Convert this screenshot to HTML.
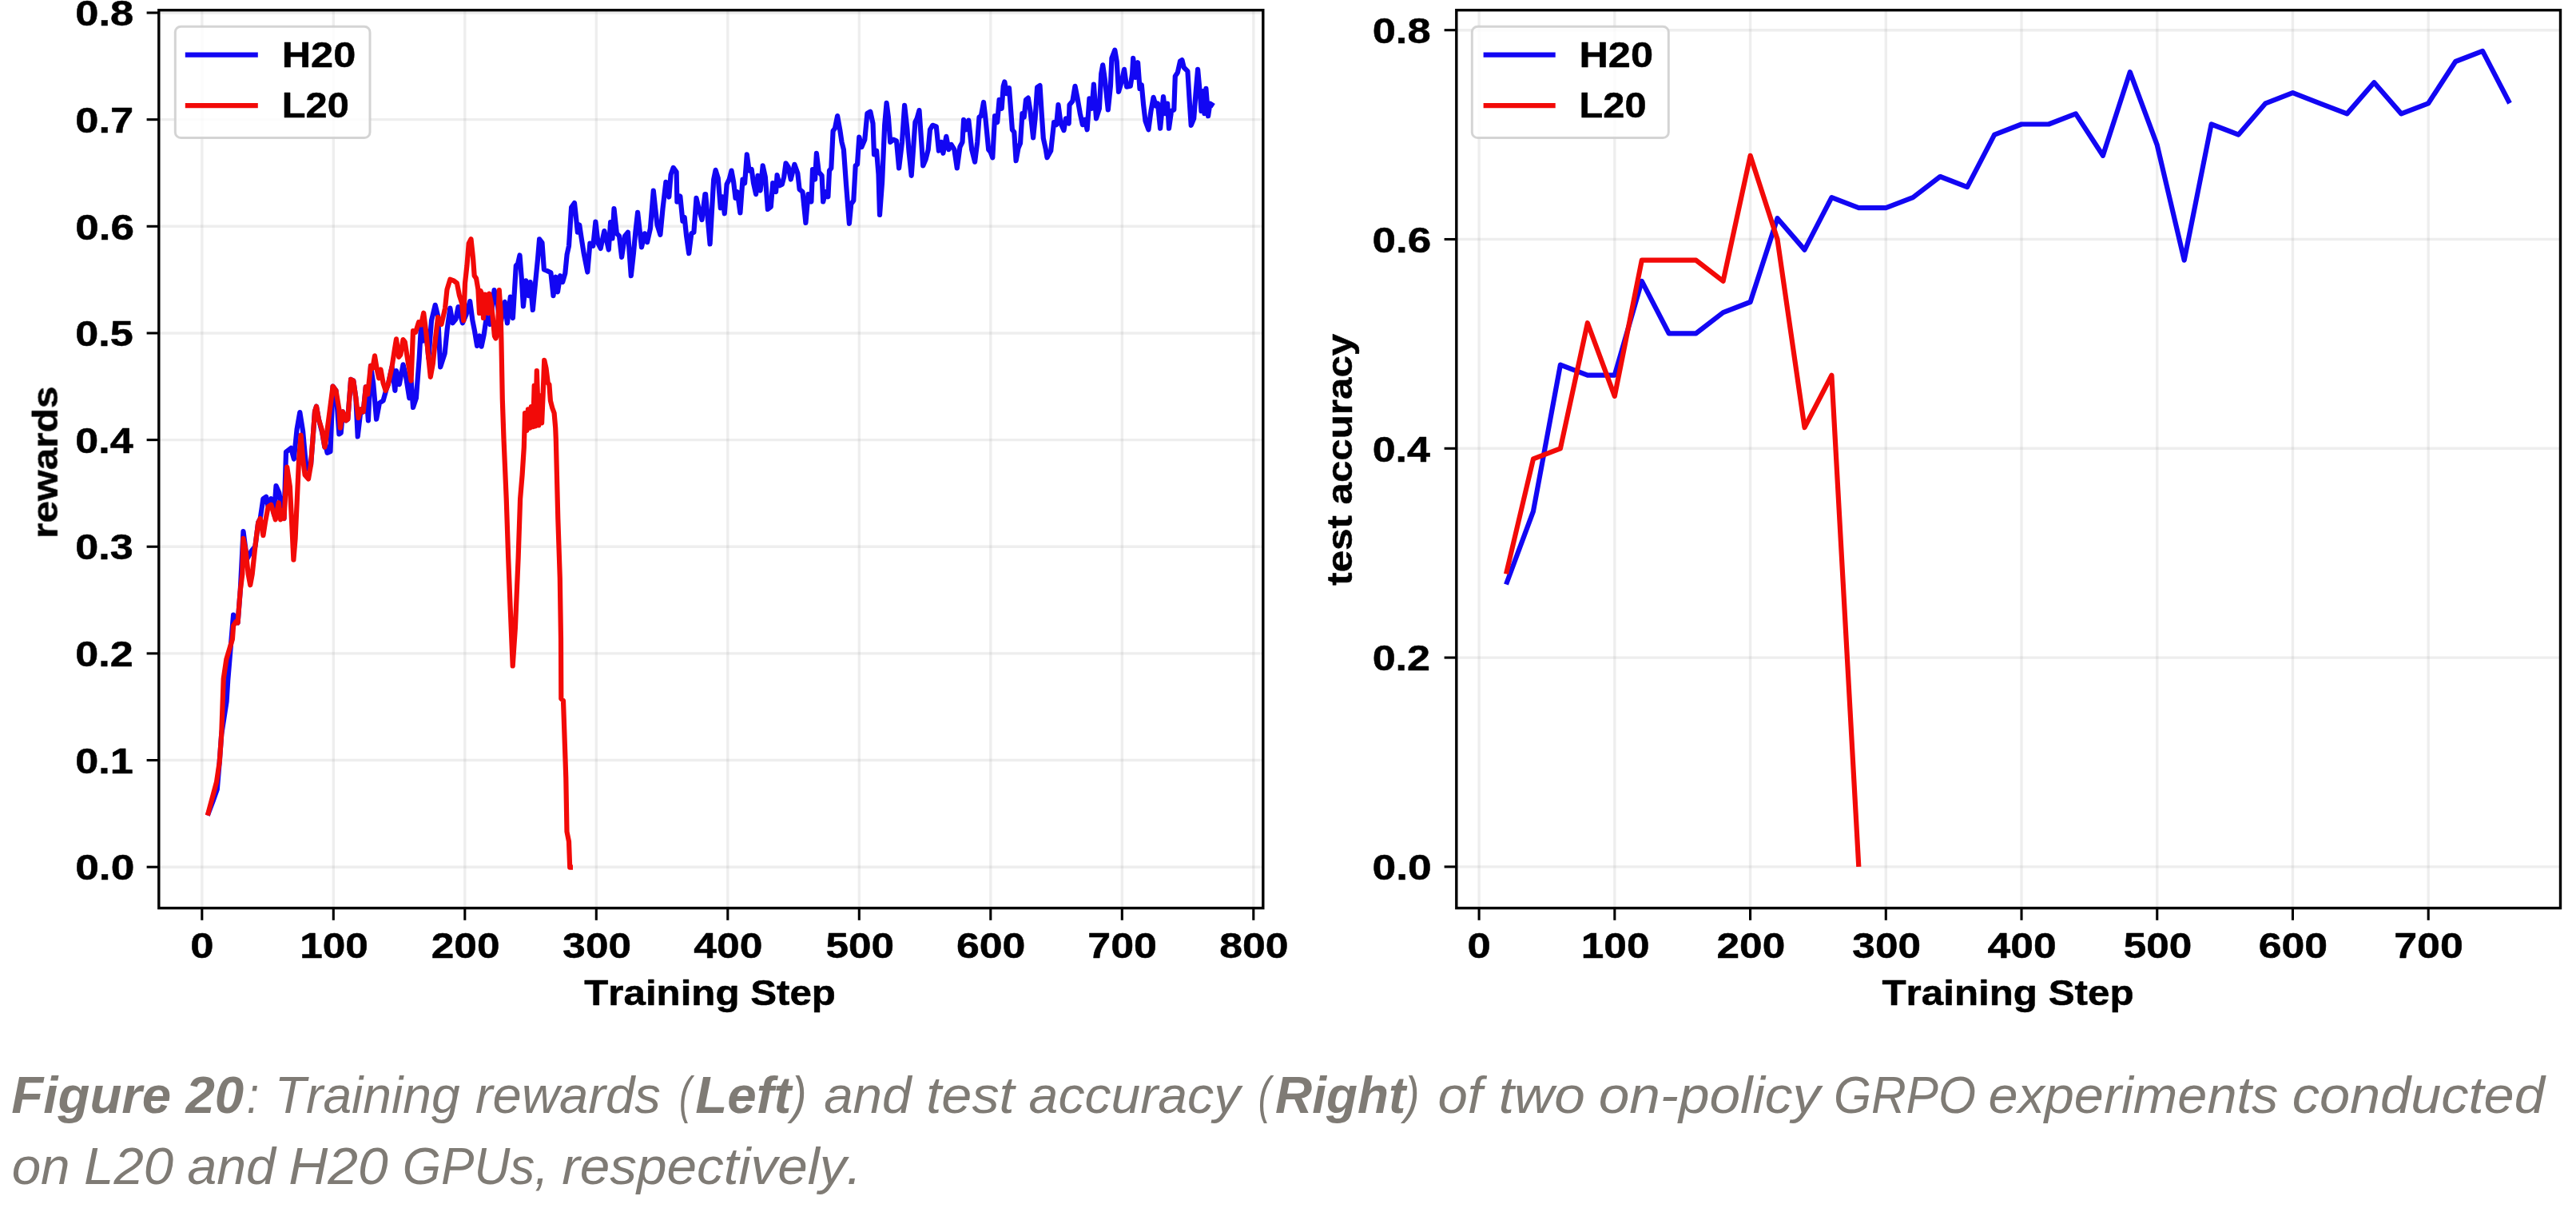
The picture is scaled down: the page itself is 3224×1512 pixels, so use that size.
<!DOCTYPE html>
<html lang="en">
<head>
<meta charset="utf-8">
<title>Figure 20</title>
<style>
html,body{margin:0;padding:0;background:#fff;}
body{width:3224px;height:1512px;overflow:hidden;font-family:"Liberation Sans",sans-serif;}
svg{display:block;}
</style>
</head>
<body>
<svg width="3224" height="1512" viewBox="0 0 3224 1512">
<rect width="3224" height="1512" fill="#fff"/>
<g>
<clipPath id="c1"><rect x="198.8" y="12.7" width="1382.0" height="1123.8999999999999"/></clipPath>
<g stroke="#b0b0b0" stroke-opacity="0.21" stroke-width="3.4">
<line x1="252.80" y1="12.7" x2="252.80" y2="1136.6"/>
<line x1="417.30" y1="12.7" x2="417.30" y2="1136.6"/>
<line x1="581.80" y1="12.7" x2="581.80" y2="1136.6"/>
<line x1="746.30" y1="12.7" x2="746.30" y2="1136.6"/>
<line x1="910.80" y1="12.7" x2="910.80" y2="1136.6"/>
<line x1="1075.30" y1="12.7" x2="1075.30" y2="1136.6"/>
<line x1="1239.80" y1="12.7" x2="1239.80" y2="1136.6"/>
<line x1="1404.30" y1="12.7" x2="1404.30" y2="1136.6"/>
<line x1="1568.80" y1="12.7" x2="1568.80" y2="1136.6"/>
<line x1="198.8" y1="1085.20" x2="1580.8" y2="1085.20"/>
<line x1="198.8" y1="951.55" x2="1580.8" y2="951.55"/>
<line x1="198.8" y1="817.90" x2="1580.8" y2="817.90"/>
<line x1="198.8" y1="684.25" x2="1580.8" y2="684.25"/>
<line x1="198.8" y1="550.60" x2="1580.8" y2="550.60"/>
<line x1="198.8" y1="416.95" x2="1580.8" y2="416.95"/>
<line x1="198.8" y1="283.30" x2="1580.8" y2="283.30"/>
<line x1="198.8" y1="149.65" x2="1580.8" y2="149.65"/>
<line x1="198.8" y1="16.00" x2="1580.8" y2="16.00"/>
</g>
<g clip-path="url(#c1)">
<polyline points="259.8,1020.6 266.5,1003.0 271.8,988.0 274.7,954.0 277.2,919.3 283.6,878.0 285.2,852.0 292.1,769.6 295.1,778.3 297.6,779.5 300.8,738.5 304.5,665.2 309.0,700.0 314.5,690.0 319.4,683.9 323.2,654.0 325.7,649.1 329.4,624.2 333.1,621.7 335.6,634.2 339.3,624.2 343.0,644.1 345.5,608.1 349.3,616.8 353.0,639.1 355.5,649.1 358.0,565.8 364.2,560.9 367.9,574.5 371.6,537.3 375.3,516.1 379.1,539.8 382.0,572.0 384.0,587.0 389.0,582.0 391.5,549.7 394.0,514.9 396.0,508.7 398.9,524.8 403.3,541.9 406.4,559.6 407.2,555.9 409.6,566.8 413.5,565.2 416.6,483.5 420.5,488.9 424.4,543.4 426.7,541.9 429.0,515.4 432.9,526.3 435.3,524.7 439.1,474.9 442.3,476.5 445.4,498.3 447.7,546.5 451.6,512.3 454.7,515.4 457.8,484.3 460.9,526.3 464.0,457.8 467.2,479.6 471.1,524.7 474.9,504.5 479.6,501.4 483.5,487.4 485.8,481.2 490.5,459.4 494.4,488.9 496.0,464.0 499.8,481.2 504.5,456.3 507.6,468.7 512.3,498.3 514.6,476.5 517.0,510.0 520.9,498.3 524.7,448.5 527.1,406.5 529.4,426.7 533.3,415.8 536.4,448.5 540.0,401.2 544.7,381.8 548.1,395.6 551.2,459.4 556.7,442.3 559.8,411.1 563.3,385.6 566.5,404.3 570.4,399.6 573.5,384.1 578.9,404.3 583.6,393.4 588.2,377.1 591.4,401.2 594.0,414.2 597.1,432.9 600.2,420.5 602.6,433.7 605.7,418.9 608.8,397.1 613.2,405.9 618.6,363.1 622.5,379.4 626.0,408.0 631.8,377.9 634.9,404.3 638.8,371.6 641.9,398.1 645.8,332.7 648.2,329.6 650.5,319.5 652.8,348.3 654.9,383.3 658.3,351.4 661.4,370.1 663.7,353.0 666.8,388.0 670.0,354.5 673.1,323.4 675.1,299.3 678.5,303.9 680.9,337.4 684.7,338.9 689.4,341.3 692.5,370.1 695.6,346.7 698.0,365.4 701.1,345.2 704.2,353.0 707.3,342.1 709.6,318.7 712.0,307.8 715.1,259.6 719.0,254.1 721.3,275.1 722.9,290.7 725.2,281.4 727.5,296.9 730.7,317.2 735.3,340.5 738.4,304.7 742.3,307.8 745.4,277.5 748.6,304.7 751.7,310.9 756.3,289.1 758.7,298.5 761.8,312.5 764.1,278.2 766.5,298.5 768.5,261.1 771.9,292.3 775.0,295.4 778.1,321.8 782.0,295.4 785.9,290.7 789.8,345.2 792.9,317.2 795.3,290.7 798.1,265.8 803.0,309.4 806.9,292.3 810.0,303.2 813.9,286.0 817.8,238.6 820.2,261.1 822.5,281.4 826.4,293.8 829.5,261.1 833.4,227.8 837.3,246.5 839.6,218.5 842.7,209.9 846.6,215.4 847.4,252.7 851.3,245.6 854.4,276.7 856.7,272.0 859.1,295.4 862.2,317.2 865.3,292.3 868.4,290.7 871.5,247.9 874.6,261.1 878.5,275.1 882.4,243.2 883.1,243.2 888.6,305.4 893.2,224.5 895.6,212.8 898.7,223.0 901.8,260.3 904.1,246.3 906.8,267.3 909.6,230.7 912.7,224.5 915.5,213.6 918.1,227.6 920.5,247.9 922.8,240.1 926.4,266.5 929.5,224.5 932.1,229.2 934.8,193.4 937.6,213.6 940.7,212.1 943.0,229.2 946.1,243.2 948.5,219.8 951.6,238.5 954.7,207.4 957.8,221.4 960.9,261.9 964.8,258.8 967.2,229.2 971.1,240.1 972.6,219.1 975.7,232.3 978.8,230.7 981.2,221.4 983.5,204.3 986.6,208.9 989.7,224.5 994.4,205.8 998.3,216.7 1000.6,237.0 1004.5,240.1 1008.4,279.0 1011.5,243.2 1015.4,252.5 1017.0,212.1 1020.1,224.5 1021.9,191.8 1024.7,215.2 1028.6,219.8 1030.2,252.5 1033.3,240.1 1036.4,246.3 1038.0,213.6 1040.3,210.5 1042.6,163.8 1045.0,160.7 1048.1,145.1 1051.2,162.3 1053.5,177.8 1055.9,187.2 1059.0,230.7 1062.9,279.8 1065.2,255.6 1068.3,251.0 1070.7,207.4 1073.0,205.8 1075.3,171.6 1078.4,184.0 1082.3,174.7 1085.4,142.0 1089.3,139.7 1092.5,154.5 1094.0,193.4 1097.1,188.7 1099.5,218.3 1101.0,268.9 1104.1,227.6 1107.2,156.0 1109.6,128.8 1111.9,146.7 1114.2,177.8 1118.1,174.7 1122.0,176.3 1125.1,210.5 1129.0,177.8 1132.1,131.9 1135.3,160.7 1137.6,190.3 1140.7,219.8 1143.0,187.2 1145.4,152.9 1147.7,148.2 1150.5,138.1 1153.2,177.8 1155.2,207.4 1158.6,199.6 1161.7,187.2 1164.0,162.3 1167.2,156.8 1171.8,158.4 1174.9,188.7 1178.1,177.8 1180.4,191.8 1184.3,170.8 1187.4,187.2 1190.5,180.9 1194.4,187.2 1197.8,210.5 1201.4,184.0 1204.5,177.8 1206.1,149.8 1209.2,162.3 1212.3,150.6 1216.2,187.2 1220.1,202.7 1223.2,177.8 1225.5,146.7 1227.9,145.1 1231.0,128.0 1233.3,146.7 1237.2,187.2 1239.7,190.3 1242.3,197.3 1245.1,145.2 1248.2,153.0 1250.6,124.9 1253.7,135.8 1255.7,107.8 1257.3,102.4 1259.9,117.2 1263.0,110.2 1264.6,131.2 1266.9,162.3 1269.3,165.4 1271.6,201.2 1274.4,185.6 1277.0,179.4 1279.4,142.1 1281.7,146.7 1284.0,124.9 1286.8,122.6 1289.5,138.9 1293.1,172.4 1295.7,146.7 1298.1,109.4 1301.5,107.0 1303.5,138.9 1305.8,173.2 1308.9,187.2 1310.5,197.3 1315.2,188.8 1319.1,153.0 1322.2,156.1 1324.5,131.2 1327.6,154.5 1331.5,163.1 1333.9,148.3 1337.7,154.5 1338.5,131.2 1342.4,126.5 1345.5,107.8 1348.6,123.4 1351.8,142.1 1354.9,156.1 1358.0,149.8 1360.6,162.3 1363.4,123.4 1366.5,135.8 1368.9,105.5 1372.0,148.3 1375.9,135.8 1378.2,92.3 1380.2,81.4 1382.9,100.0 1386.8,137.4 1389.9,107.8 1391.4,72.8 1395.3,62.7 1397.7,76.7 1400.0,114.8 1403.9,101.6 1407.0,86.8 1410.1,108.6 1414.8,107.8 1417.1,92.3 1418.2,72.8 1421.0,96.9 1424.1,78.2 1426.5,110.9 1428.8,106.3 1431.1,131.2 1433.5,151.4 1437.4,162.3 1440.5,138.9 1443.6,121.8 1446.7,132.7 1449.0,129.6 1452.1,160.7 1456.0,121.1 1458.4,142.1 1461.2,129.6 1463.0,160.7 1466.1,138.9 1469.3,137.4 1470.8,95.4 1473.9,90.7 1477.0,76.7 1479.4,75.1 1481.7,84.5 1486.4,89.1 1488.7,126.5 1490.7,156.8 1494.2,148.3 1496.5,117.2 1499.1,86.8 1501.9,117.2 1503.5,138.9 1505.8,114.0 1507.4,142.1 1509.4,110.9 1512.1,145.2 1514.4,129.6 1519.1,132.7" fill="none" stroke="#1206f3" stroke-width="6.2" stroke-linejoin="round" stroke-linecap="butt"/>
<polyline points="259.8,1020.6 271.0,978.9 274.7,954.0 277.2,919.3 279.7,849.7 283.4,824.8 290.9,800.0 292.1,783.2 295.1,778.3 297.6,779.5 300.8,738.5 303.3,718.6 304.5,673.9 307.5,688.8 310.7,718.6 313.2,732.3 315.7,718.6 319.4,683.9 323.2,654.0 325.7,649.1 329.4,670.2 331.9,654.0 335.6,634.2 339.3,631.7 343.0,644.1 344.8,650.3 346.8,639.1 348.8,629.2 351.2,650.3 353.0,639.1 355.5,649.1 357.2,619.3 359.2,584.5 362.9,609.3 365.4,659.0 367.4,700.7 369.6,673.9 372.1,619.3 374.1,574.5 376.6,544.7 379.1,574.5 381.6,594.4 386.0,599.4 389.0,582.0 391.5,549.7 394.0,514.9 396.0,508.7 398.9,524.8 402.7,537.3 406.4,559.6 407.2,555.9 411.9,520.1 416.6,483.5 420.5,488.9 424.4,512.3 425.9,535.6 429.0,515.4 432.9,526.3 435.3,524.7 439.1,474.9 442.3,476.5 445.4,498.3 448.5,523.2 451.6,512.3 454.7,515.4 457.8,484.3 460.2,493.6 464.0,457.8 466.4,460.9 469.0,445.4 471.8,462.5 474.2,473.4 476.5,462.5 479.6,479.6 482.7,488.9 485.8,481.2 490.5,459.4 493.6,439.1 496.0,424.4 499.1,446.9 501.4,443.8 504.5,425.1 506.8,428.2 510.7,453.2 514.6,476.5 517.0,414.2 520.1,415.8 524.0,403.3 527.1,406.5 530.2,391.7 533.3,415.8 536.4,448.5 538.8,471.8 541.9,454.7 545.0,423.6 548.1,397.1 552.5,405.9 557.1,385.6 559.5,362.3 563.3,349.8 568.0,351.4 571.9,354.5 575.0,370.1 578.1,379.4 580.2,401.2 582.0,354.5 584.4,332.7 586.7,304.7 589.5,299.3 592.1,323.4 593.7,345.2 596.0,348.3 598.4,362.3 600.0,392.0 601.5,364.0 603.8,370.0 605.0,398.0 606.9,368.5 609.3,370.0 611.0,392.0 612.4,367.7 614.7,379.4 616.6,395.6 618.9,420.5 620.5,423.6 622.8,415.8 624.8,363.1 626.6,390.0 627.4,425.0 628.8,500.0 630.5,549.7 633.7,624.2 636.2,698.8 638.7,760.9 641.7,833.5 644.9,785.7 648.6,698.8 651.1,624.2 653.6,594.4 655.8,560.0 657.0,517.0 659.4,538.8 660.9,512.3 663.3,535.6 664.8,509.2 667.2,534.1 668.7,482.7 670.3,533.3 671.8,464.0 674.2,532.5 675.7,495.2 678.1,529.4 679.6,495.2 681.2,450.8 683.5,460.9 685.8,479.6 687.4,481.2 688.9,501.4 691.3,510.7 693.6,517.0 695.2,535.6 695.8,549.7 698.3,649.0 700.8,723.6 702.0,800.0 702.3,874.5 705.0,877.0 708.3,973.9 709.5,1041.0 712.0,1053.4 713.2,1085.7 717.0,1085.7" fill="none" stroke="#f20a08" stroke-width="6.2" stroke-linejoin="round" stroke-linecap="butt"/>
</g>
<g stroke="#000" stroke-width="3.1">
<line x1="252.80" y1="1136.6" x2="252.80" y2="1151.80"/>
<line x1="417.30" y1="1136.6" x2="417.30" y2="1151.80"/>
<line x1="581.80" y1="1136.6" x2="581.80" y2="1151.80"/>
<line x1="746.30" y1="1136.6" x2="746.30" y2="1151.80"/>
<line x1="910.80" y1="1136.6" x2="910.80" y2="1151.80"/>
<line x1="1075.30" y1="1136.6" x2="1075.30" y2="1151.80"/>
<line x1="1239.80" y1="1136.6" x2="1239.80" y2="1151.80"/>
<line x1="1404.30" y1="1136.6" x2="1404.30" y2="1151.80"/>
<line x1="1568.80" y1="1136.6" x2="1568.80" y2="1151.80"/>
<line x1="183.60" y1="1085.20" x2="198.8" y2="1085.20"/>
<line x1="183.60" y1="951.55" x2="198.8" y2="951.55"/>
<line x1="183.60" y1="817.90" x2="198.8" y2="817.90"/>
<line x1="183.60" y1="684.25" x2="198.8" y2="684.25"/>
<line x1="183.60" y1="550.60" x2="198.8" y2="550.60"/>
<line x1="183.60" y1="416.95" x2="198.8" y2="416.95"/>
<line x1="183.60" y1="283.30" x2="198.8" y2="283.30"/>
<line x1="183.60" y1="149.65" x2="198.8" y2="149.65"/>
<line x1="183.60" y1="16.00" x2="198.8" y2="16.00"/>
</g>
<rect x="198.8" y="12.7" width="1382.00" height="1123.90" fill="none" stroke="#000" stroke-width="3.4"/>
<rect x="219.3" y="33.2" width="243.70" height="139.4" rx="7" ry="7" fill="#fff" fill-opacity="0.8" stroke="#ccc" stroke-opacity="0.85" stroke-width="3.0"/>
<line x1="231.8" y1="68.7" x2="322.8" y2="68.7" stroke="#1206f3" stroke-width="6.2"/>
<line x1="231.8" y1="132.1" x2="322.8" y2="132.1" stroke="#f20a08" stroke-width="6.2"/>
<clipPath id="c2"><rect x="1822.8" y="12.7" width="1381.7" height="1123.8999999999999"/></clipPath>
<g stroke="#b0b0b0" stroke-opacity="0.21" stroke-width="3.4">
<line x1="1851.10" y1="12.7" x2="1851.10" y2="1136.6"/>
<line x1="2020.83" y1="12.7" x2="2020.83" y2="1136.6"/>
<line x1="2190.56" y1="12.7" x2="2190.56" y2="1136.6"/>
<line x1="2360.29" y1="12.7" x2="2360.29" y2="1136.6"/>
<line x1="2530.02" y1="12.7" x2="2530.02" y2="1136.6"/>
<line x1="2699.75" y1="12.7" x2="2699.75" y2="1136.6"/>
<line x1="2869.48" y1="12.7" x2="2869.48" y2="1136.6"/>
<line x1="3039.21" y1="12.7" x2="3039.21" y2="1136.6"/>
<line x1="1822.8" y1="1084.90" x2="3204.5" y2="1084.90"/>
<line x1="1822.8" y1="823.10" x2="3204.5" y2="823.10"/>
<line x1="1822.8" y1="561.30" x2="3204.5" y2="561.30"/>
<line x1="1822.8" y1="299.50" x2="3204.5" y2="299.50"/>
<line x1="1822.8" y1="37.70" x2="3204.5" y2="37.70"/>
</g>
<g clip-path="url(#c2)">
<polyline points="1885.0,731.5 1919.0,639.8 1952.9,456.6 1986.9,469.7 2020.8,469.7 2054.8,351.9 2088.7,417.3 2122.7,417.3 2156.6,391.1 2190.6,378.0 2224.5,273.3 2258.5,312.6 2292.4,247.1 2326.3,260.2 2360.3,260.2 2394.2,247.1 2428.2,221.0 2462.1,234.1 2496.1,168.6 2530.0,155.5 2564.0,155.5 2597.9,142.4 2631.9,194.8 2665.8,90.1 2699.8,181.7 2733.7,325.7 2767.6,155.5 2801.6,168.6 2835.5,129.3 2869.5,116.2 2903.4,129.3 2937.4,142.4 2971.3,103.2 3005.3,142.4 3039.2,129.3 3073.2,77.0 3107.1,63.9 3141.0,129.3" fill="none" stroke="#1206f3" stroke-width="6.2" stroke-linejoin="round" stroke-linecap="butt"/>
<polyline points="1885.0,718.4 1919.0,574.4 1952.9,561.3 1986.9,404.2 2020.8,495.9 2054.8,325.7 2088.7,325.7 2122.7,325.7 2156.6,351.9 2190.6,194.8 2224.5,299.5 2258.5,535.1 2292.4,469.7 2326.3,1084.9" fill="none" stroke="#f20a08" stroke-width="6.2" stroke-linejoin="round" stroke-linecap="butt"/>
</g>
<g stroke="#000" stroke-width="3.1">
<line x1="1851.10" y1="1136.6" x2="1851.10" y2="1151.80"/>
<line x1="2020.83" y1="1136.6" x2="2020.83" y2="1151.80"/>
<line x1="2190.56" y1="1136.6" x2="2190.56" y2="1151.80"/>
<line x1="2360.29" y1="1136.6" x2="2360.29" y2="1151.80"/>
<line x1="2530.02" y1="1136.6" x2="2530.02" y2="1151.80"/>
<line x1="2699.75" y1="1136.6" x2="2699.75" y2="1151.80"/>
<line x1="2869.48" y1="1136.6" x2="2869.48" y2="1151.80"/>
<line x1="3039.21" y1="1136.6" x2="3039.21" y2="1151.80"/>
<line x1="1807.60" y1="1084.90" x2="1822.8" y2="1084.90"/>
<line x1="1807.60" y1="823.10" x2="1822.8" y2="823.10"/>
<line x1="1807.60" y1="561.30" x2="1822.8" y2="561.30"/>
<line x1="1807.60" y1="299.50" x2="1822.8" y2="299.50"/>
<line x1="1807.60" y1="37.70" x2="1822.8" y2="37.70"/>
</g>
<rect x="1822.8" y="12.7" width="1381.70" height="1123.90" fill="none" stroke="#000" stroke-width="3.4"/>
<rect x="1842.3" y="33.2" width="246.00" height="139.4" rx="7" ry="7" fill="#fff" fill-opacity="0.8" stroke="#ccc" stroke-opacity="0.85" stroke-width="3.0"/>
<line x1="1856.6" y1="68.7" x2="1946.7" y2="68.7" stroke="#1206f3" stroke-width="6.2"/>
<line x1="1856.6" y1="132.1" x2="1946.7" y2="132.1" stroke="#f20a08" stroke-width="6.2"/>
<g font-family="'Liberation Sans', sans-serif" font-weight="bold" font-size="44.2px" fill="#000" stroke="#000" stroke-width="0.5" stroke-linejoin="round" opacity="0.999" style="font-kerning:none">
<text x="94.21" y="1101.40" textLength="74.18" lengthAdjust="spacingAndGlyphs">0.0</text>
<text x="94.26" y="967.75" textLength="72.52" lengthAdjust="spacingAndGlyphs">0.1</text>
<text x="94.26" y="834.10" textLength="72.40" lengthAdjust="spacingAndGlyphs">0.2</text>
<text x="94.26" y="700.45" textLength="72.50" lengthAdjust="spacingAndGlyphs">0.3</text>
<text x="94.27" y="566.80" textLength="72.30" lengthAdjust="spacingAndGlyphs">0.4</text>
<text x="94.26" y="433.15" textLength="72.48" lengthAdjust="spacingAndGlyphs">0.5</text>
<text x="94.23" y="299.50" textLength="73.65" lengthAdjust="spacingAndGlyphs">0.6</text>
<text x="94.25" y="165.85" textLength="72.94" lengthAdjust="spacingAndGlyphs">0.7</text>
<text x="94.25" y="32.20" textLength="72.98" lengthAdjust="spacingAndGlyphs">0.8</text>
<text x="238.21" y="1199.10" textLength="29.26" lengthAdjust="spacingAndGlyphs">0</text>
<text x="375.25" y="1199.10" textLength="85.69" lengthAdjust="spacingAndGlyphs">100</text>
<text x="539.80" y="1199.10" textLength="85.64" lengthAdjust="spacingAndGlyphs">200</text>
<text x="704.39" y="1199.10" textLength="85.54" lengthAdjust="spacingAndGlyphs">300</text>
<text x="868.37" y="1199.10" textLength="86.07" lengthAdjust="spacingAndGlyphs">400</text>
<text x="1033.42" y="1199.10" textLength="85.51" lengthAdjust="spacingAndGlyphs">500</text>
<text x="1196.97" y="1199.10" textLength="86.49" lengthAdjust="spacingAndGlyphs">600</text>
<text x="1361.34" y="1199.10" textLength="86.62" lengthAdjust="spacingAndGlyphs">700</text>
<text x="1526.18" y="1199.10" textLength="86.27" lengthAdjust="spacingAndGlyphs">800</text>
<text x="1717.61" y="1101.10" textLength="74.18" lengthAdjust="spacingAndGlyphs">0.0</text>
<text x="1717.66" y="839.30" textLength="72.40" lengthAdjust="spacingAndGlyphs">0.2</text>
<text x="1717.67" y="577.50" textLength="72.30" lengthAdjust="spacingAndGlyphs">0.4</text>
<text x="1717.63" y="315.70" textLength="73.65" lengthAdjust="spacingAndGlyphs">0.6</text>
<text x="1717.65" y="53.90" textLength="72.98" lengthAdjust="spacingAndGlyphs">0.8</text>
<text x="1836.51" y="1199.10" textLength="29.26" lengthAdjust="spacingAndGlyphs">0</text>
<text x="1978.78" y="1199.10" textLength="85.69" lengthAdjust="spacingAndGlyphs">100</text>
<text x="2148.56" y="1199.10" textLength="85.64" lengthAdjust="spacingAndGlyphs">200</text>
<text x="2318.38" y="1199.10" textLength="85.54" lengthAdjust="spacingAndGlyphs">300</text>
<text x="2487.59" y="1199.10" textLength="86.07" lengthAdjust="spacingAndGlyphs">400</text>
<text x="2657.87" y="1199.10" textLength="85.51" lengthAdjust="spacingAndGlyphs">500</text>
<text x="2826.65" y="1199.10" textLength="86.49" lengthAdjust="spacingAndGlyphs">600</text>
<text x="2996.25" y="1199.10" textLength="86.62" lengthAdjust="spacingAndGlyphs">700</text>
<text x="731.25" y="1258.30" textLength="314.67" lengthAdjust="spacingAndGlyphs">Training Step</text>
<text x="2355.45" y="1258.30" textLength="315.18" lengthAdjust="spacingAndGlyphs">Training Step</text>
<text transform="translate(71.70 578.80) rotate(-90)" x="-95.15" y="0" textLength="190.58" lengthAdjust="spacingAndGlyphs">rewards</text>
<text transform="translate(1692.20 575.00) rotate(-90)" x="-157.73" y="0" textLength="314.92" lengthAdjust="spacingAndGlyphs">test accuracy</text>
<text x="352.65" y="84.00" textLength="92.55" lengthAdjust="spacingAndGlyphs">H20</text>
<text x="352.77" y="147.20" textLength="84.04" lengthAdjust="spacingAndGlyphs">L20</text>
<text x="1976.45" y="84.00" textLength="92.55" lengthAdjust="spacingAndGlyphs">H20</text>
<text x="1976.57" y="147.20" textLength="84.04" lengthAdjust="spacingAndGlyphs">L20</text>
</g>
</g>
<g font-family="'Liberation Sans', sans-serif" font-style="italic" font-size="65.4px" fill="#7f7b75" opacity="0.999" style="font-kerning:none">
<text x="14.35" y="1392.90" textLength="290.79" lengthAdjust="spacingAndGlyphs" font-weight="bold">Figure 20</text>
<text x="308.81" y="1392.90" textLength="15.42" lengthAdjust="spacingAndGlyphs">:</text>
<text x="343.83" y="1392.90" textLength="231.83" lengthAdjust="spacingAndGlyphs">Training</text>
<text x="594.92" y="1392.90" textLength="231.92" lengthAdjust="spacingAndGlyphs">rewards</text>
<text x="850.04" y="1392.90" textLength="15.37" lengthAdjust="spacingAndGlyphs">(</text>
<text x="870.35" y="1392.90" textLength="120.11" lengthAdjust="spacingAndGlyphs" font-weight="bold">Left</text>
<text x="990.78" y="1392.90" textLength="18.78" lengthAdjust="spacingAndGlyphs">)</text>
<text x="1031.13" y="1392.90" textLength="109.34" lengthAdjust="spacingAndGlyphs">and</text>
<text x="1159.39" y="1392.90" textLength="110.23" lengthAdjust="spacingAndGlyphs">test</text>
<text x="1287.61" y="1392.90" textLength="264.66" lengthAdjust="spacingAndGlyphs">accuracy</text>
<text x="1574.79" y="1392.90" textLength="15.72" lengthAdjust="spacingAndGlyphs">(</text>
<text x="1596.08" y="1392.90" textLength="163.14" lengthAdjust="spacingAndGlyphs" font-weight="bold">Right</text>
<text x="1758.32" y="1392.90" textLength="18.24" lengthAdjust="spacingAndGlyphs">)</text>
<text x="1799.50" y="1392.90" textLength="55.99" lengthAdjust="spacingAndGlyphs">of</text>
<text x="1875.85" y="1392.90" textLength="107.85" lengthAdjust="spacingAndGlyphs">two</text>
<text x="2000.73" y="1392.90" textLength="277.48" lengthAdjust="spacingAndGlyphs">on-policy</text>
<text x="2294.92" y="1392.90" textLength="178.06" lengthAdjust="spacingAndGlyphs">GRPO</text>
<text x="2488.46" y="1392.90" textLength="362.81" lengthAdjust="spacingAndGlyphs">experiments</text>
<text x="2868.66" y="1392.90" textLength="316.13" lengthAdjust="spacingAndGlyphs">conducted</text>
<text x="14.66" y="1481.50" textLength="72.92" lengthAdjust="spacingAndGlyphs">on</text>
<text x="105.03" y="1481.50" textLength="112.13" lengthAdjust="spacingAndGlyphs">L20</text>
<text x="234.51" y="1481.50" textLength="110.44" lengthAdjust="spacingAndGlyphs">and</text>
<text x="361.21" y="1481.50" textLength="124.55" lengthAdjust="spacingAndGlyphs">H20</text>
<text x="503.84" y="1481.50" textLength="182.67" lengthAdjust="spacingAndGlyphs">GPUs,</text>
<text x="703.28" y="1481.50" textLength="375.09" lengthAdjust="spacingAndGlyphs">respectively.</text>
</g>
</svg>
</body>
</html>
